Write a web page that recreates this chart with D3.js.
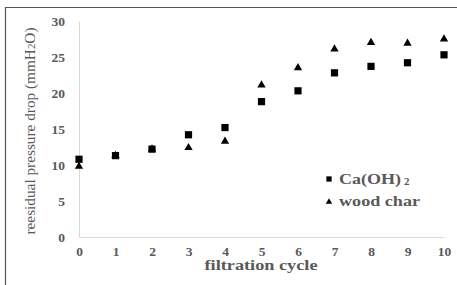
<!DOCTYPE html>
<html><head><meta charset="utf-8">
<script src="https://cdn.jsdelivr.net/npm/d3@7"></script>
<style>body{margin:0;background:#fff}svg{display:block}</style>
</head><body>
<script>
const cycles = [0,1,2,3,4,5,6,7,8,9,10];
const caOH2 = [10.8,11.3,12.2,14.2,15.2,18.8,20.3,22.8,23.7,24.2,25.3];
const woodChar = [9.8,11.3,12.2,12.4,13.3,21.1,23.5,26.1,27.0,26.9,27.5];
const yTicks = [0,5,10,15,20,25,30];
const seriesNames = ["Ca(OH)", "wood char"];

const W = 457, H = 285;
const svg = d3.select("body").append("svg").attr("width", W).attr("height", H);
const font = '"Liberation Serif", "DejaVu Serif", serif';
const grey = "#595959";

// frame
svg.append("line").attr("x1",5.5).attr("x2",W).attr("y1",7.5).attr("y2",7.5).attr("stroke","#555").attr("stroke-width",1.2);
svg.append("line").attr("x1",5.5).attr("x2",5.5).attr("y1",7).attr("y2",H).attr("stroke","#555").attr("stroke-width",1.2);

const x = d3.scaleLinear().domain([0,10]).range([79,444]);
const y = d3.scaleLinear().domain([0,30]).range([237,21]);

const xAxis = d3.axisBottom(x).tickValues(cycles).tickSize(0).tickPadding(9);
const gx = svg.append("g").attr("transform",`translate(0,${y(0)})`).call(xAxis);
gx.attr("font-family", null);
gx.select(".domain").attr("stroke","#d9d9d9");
gx.selectAll("text").style("font-family",font).style("font-weight","bold").style("font-size","13.5px").attr("fill",grey);

const yAxis = d3.axisLeft(y).tickValues(yTicks).tickSize(0).tickPadding(14);
const gy = svg.append("g").attr("transform",`translate(${x(0)},0)`).call(yAxis);
gy.attr("font-family", null);
gy.select(".domain").attr("stroke","#d9d9d9");
gy.selectAll("text").style("font-family",font).style("font-weight","bold").style("font-size","13.5px").attr("fill",grey);

svg.append("text").attr("x",261).attr("y",270).attr("text-anchor","middle")
  .style("font-family",font).style("font-weight","bold").style("font-size","14px").attr("fill",grey)
  .attr("textLength",113).attr("lengthAdjust","spacingAndGlyphs")
  .text("filtration cycle");
const yt = svg.append("text").attr("transform","translate(35,131) rotate(-90)").attr("text-anchor","middle")
  .style("font-family",font).style("font-size","14px").attr("fill",grey)
  .attr("textLength",207).attr("lengthAdjust","spacingAndGlyphs");
yt.append("tspan").text("reesidual pressure drop (mmH");
yt.append("tspan").style("font-size","10px").text("2");
yt.append("tspan").text("O)");

const sq = d3.symbol().type(d3.symbolSquare).size(52);
const tri = d3.symbol().type(d3.symbolTriangle).size(30);
svg.append("g").selectAll("path").data(cycles).join("path")
  .attr("d", tri).attr("transform",(d,i)=>`translate(${x(d)},${y(woodChar[i])})`).attr("fill","#000");
svg.append("g").selectAll("path").data(cycles).join("path")
  .attr("d", sq).attr("transform",(d,i)=>`translate(${x(d)},${y(caOH2[i])})`).attr("fill","#000");

const lg = svg.append("g");
lg.append("path").attr("d", d3.symbol().type(d3.symbolSquare).size(28)).attr("transform","translate(329,179)").attr("fill","#000");
lg.append("path").attr("d", d3.symbol().type(d3.symbolTriangle).size(18)).attr("transform","translate(329,202)").attr("fill","#000");
lg.append("text").attr("x",339).attr("y",184).style("font-family",font).style("font-weight","bold").style("font-size","15px").attr("fill",grey)
  .attr("textLength",62).attr("lengthAdjust","spacingAndGlyphs").text(seriesNames[0]);
lg.append("text").attr("x",404).attr("y",185).style("font-family",font).style("font-weight","bold").style("font-size","11px").attr("fill",grey).text("2");
lg.append("text").attr("x",339).attr("y",206).style("font-family",font).style("font-weight","bold").style("font-size","15px").attr("fill",grey)
  .attr("textLength",81).attr("lengthAdjust","spacingAndGlyphs").text(seriesNames[1]);
</script>
</body></html>
